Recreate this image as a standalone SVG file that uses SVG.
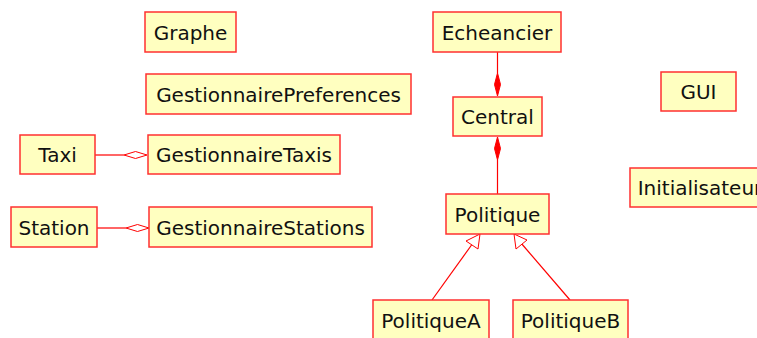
<svg xmlns="http://www.w3.org/2000/svg" width="757" height="338" viewBox="0 0 757 338">
<style>
.n rect{fill:#ffffc0;stroke:#ff3030;stroke-width:1.5}
.n text{font-family:"DejaVu Sans",sans-serif;font-size:20px;fill:#111;text-anchor:middle}
.c line{stroke:#ff0000;stroke-width:1.2}
.hd{fill:#fff;stroke:#ff0000;stroke-width:1}
.fd{fill:#ff0000;stroke:#ff0000;stroke-width:1}
.tri{fill:#fff;stroke:#ff0000;stroke-width:1}
</style>
<rect width="757" height="338" fill="#fff"/>
<g id="connectors" class="c">
<line x1="95" y1="155" x2="124" y2="155"/>
<polygon class="hd" points="124,155 135.5,151.5 147,155 135.5,158.5"/>
<line x1="97" y1="228" x2="126" y2="228"/>
<polygon class="hd" points="126,228 137.5,224.5 149,228 137.5,231.5"/>
<line x1="497.5" y1="52" x2="497.5" y2="73"/>
<polygon class="fd" points="497.5,73 500.5,84.5 497.5,96 494.5,84.5"/>
<line x1="497.5" y1="160" x2="497.5" y2="194"/>
<polygon class="fd" points="497.5,137 500.5,148.5 497.5,160 494.5,148.5"/>
<line x1="432" y1="300" x2="473" y2="243"/>
<polygon class="tri" points="480,234 466,241 478,249"/>
<line x1="570" y1="300" x2="521" y2="243"/>
<polygon class="tri" points="514,234 516,249 527,240"/>
</g>
<g id="Graphe" class="n"><rect x="145" y="12" width="91" height="40"/><text x="190.5" y="39.5">Graphe</text></g>
<g id="GestionnairePreferences" class="n"><rect x="146" y="74" width="265" height="40"/><text x="278.5" y="101.5">GestionnairePreferences</text></g>
<g id="Taxi" class="n"><rect x="20" y="135" width="75" height="39"/><text x="57.5" y="162">Taxi</text></g>
<g id="GestionnaireTaxis" class="n"><rect x="148" y="135" width="192" height="39"/><text x="244" y="162">GestionnaireTaxis</text></g>
<g id="Station" class="n"><rect x="11" y="207" width="86" height="40"/><text x="54" y="234.5">Station</text></g>
<g id="GestionnaireStations" class="n"><rect x="149" y="207" width="223" height="40"/><text x="260.5" y="234.5">GestionnaireStations</text></g>
<g id="Echeancier" class="n"><rect x="433" y="12" width="128" height="40"/><text x="497" y="39.5">Echeancier</text></g>
<g id="Central" class="n"><rect x="453" y="97" width="89" height="39"/><text x="497.5" y="124">Central</text></g>
<g id="Politique" class="n"><rect x="446" y="194" width="103" height="40"/><text x="497.5" y="221.5">Politique</text></g>
<g id="GUI" class="n"><rect x="661" y="72" width="75" height="39"/><text x="698.5" y="99">GUI</text></g>
<g id="Initialisateur" class="n"><rect x="630" y="168" width="140" height="39"/><text x="700" y="195">Initialisateur</text></g>
<g id="PolitiqueA" class="n"><rect x="373" y="300" width="116" height="45"/><text x="431" y="327.5">PolitiqueA</text></g>
<g id="PolitiqueB" class="n"><rect x="513" y="300" width="115" height="45"/><text x="570.5" y="327.5">PolitiqueB</text></g>
</svg>
